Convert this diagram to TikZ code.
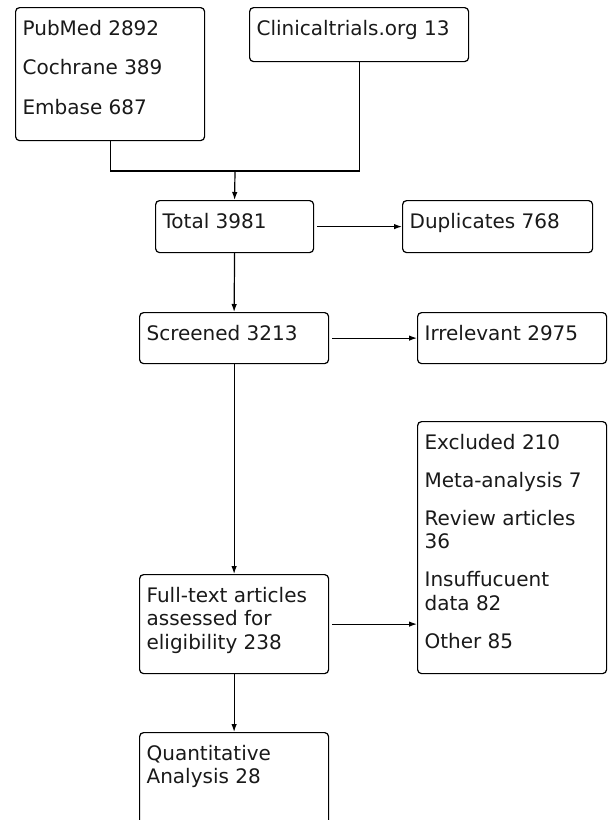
\documentclass[tikz,border=0pt]{standalone}
\usepackage{fontspec}
\setmainfont{DejaVu Sans}
\usetikzlibrary{arrows.meta}
\newcommand{\boxtext}[3]{\parbox[t][#2][t]{#1}{\raggedright\rule{0pt}{17.5pt}#3}}

\begin{document}
\begin{tikzpicture}[x=1pt, y=-1pt, line width=1.2pt,
	every node/.style={font=\fontsize{20}{23.5}\selectfont, text=black!90},
	flow/.style={draw, rounded corners=4pt, anchor=north west, inner xsep=7pt, inner ysep=10pt},
	>={Latex[length=8pt,width=5.5pt]}]
	\path[use as bounding box, clip] (0,0) rectangle (608,820);
	% sources
	\node[flow] (pub) at (15,7) {\boxtext{175pt}{113pt}{PubMed 2892\\[16pt]Cochrane 389\\[16pt]Embase 687}};
	\node[flow] (ct) at (249,7) {\boxtext{205pt}{34pt}{Clinicaltrials.org 13}};
	\coordinate (join) at (235,171);
	% main column
	\node[flow] (tot) at (155,200) {\boxtext{144pt}{32pt}{Total 3981}};
	\node[flow] (scr) at (139,312) {\boxtext{175pt}{31pt}{Screened 3213}};
	\node[flow] (full) at (139,574) {\boxtext{175pt}{79pt}{Full-text articles\\assessed for\\eligibility 238}};
	\node[flow] (quant) at (139,732) {\boxtext{175pt}{90pt}{Quantitative\\Analysis 28}};
	% removed records
	\node[flow] (dup) at (402,200) {\boxtext{176pt}{32pt}{Duplicates 768}};
	\node[flow] (irr) at (417,312) {\boxtext{175pt}{31pt}{Irrelevant 2975}};
	\node[flow] (exc) at (417,421) {\boxtext{175pt}{232pt}{Excluded 210\\[14.5pt]Meta-analysis 7\\[14.5pt]Review articles\\36\\[14.5pt]Insuffucuent\\data 82\\[14.5pt]Other 85}};
	% connectors
	\draw (pub.south) -- (pub.south |- join) -| (ct.south);
	\draw[->] (join) -- (tot.north);
	\draw[->] (tot.south) -- (scr.north);
	\draw[->] (scr.south) -- (full.north);
	\draw[->] (full.south) -- (quant.north);
	\draw[->, shorten <=3pt] (tot.east) -- (dup.west);
	\draw[->, shorten <=3pt] (scr.east) -- (irr.west);
	\draw[->, shorten <=3pt] (full.east) -- (full.east -| exc.west);
\end{tikzpicture}
\end{document}
